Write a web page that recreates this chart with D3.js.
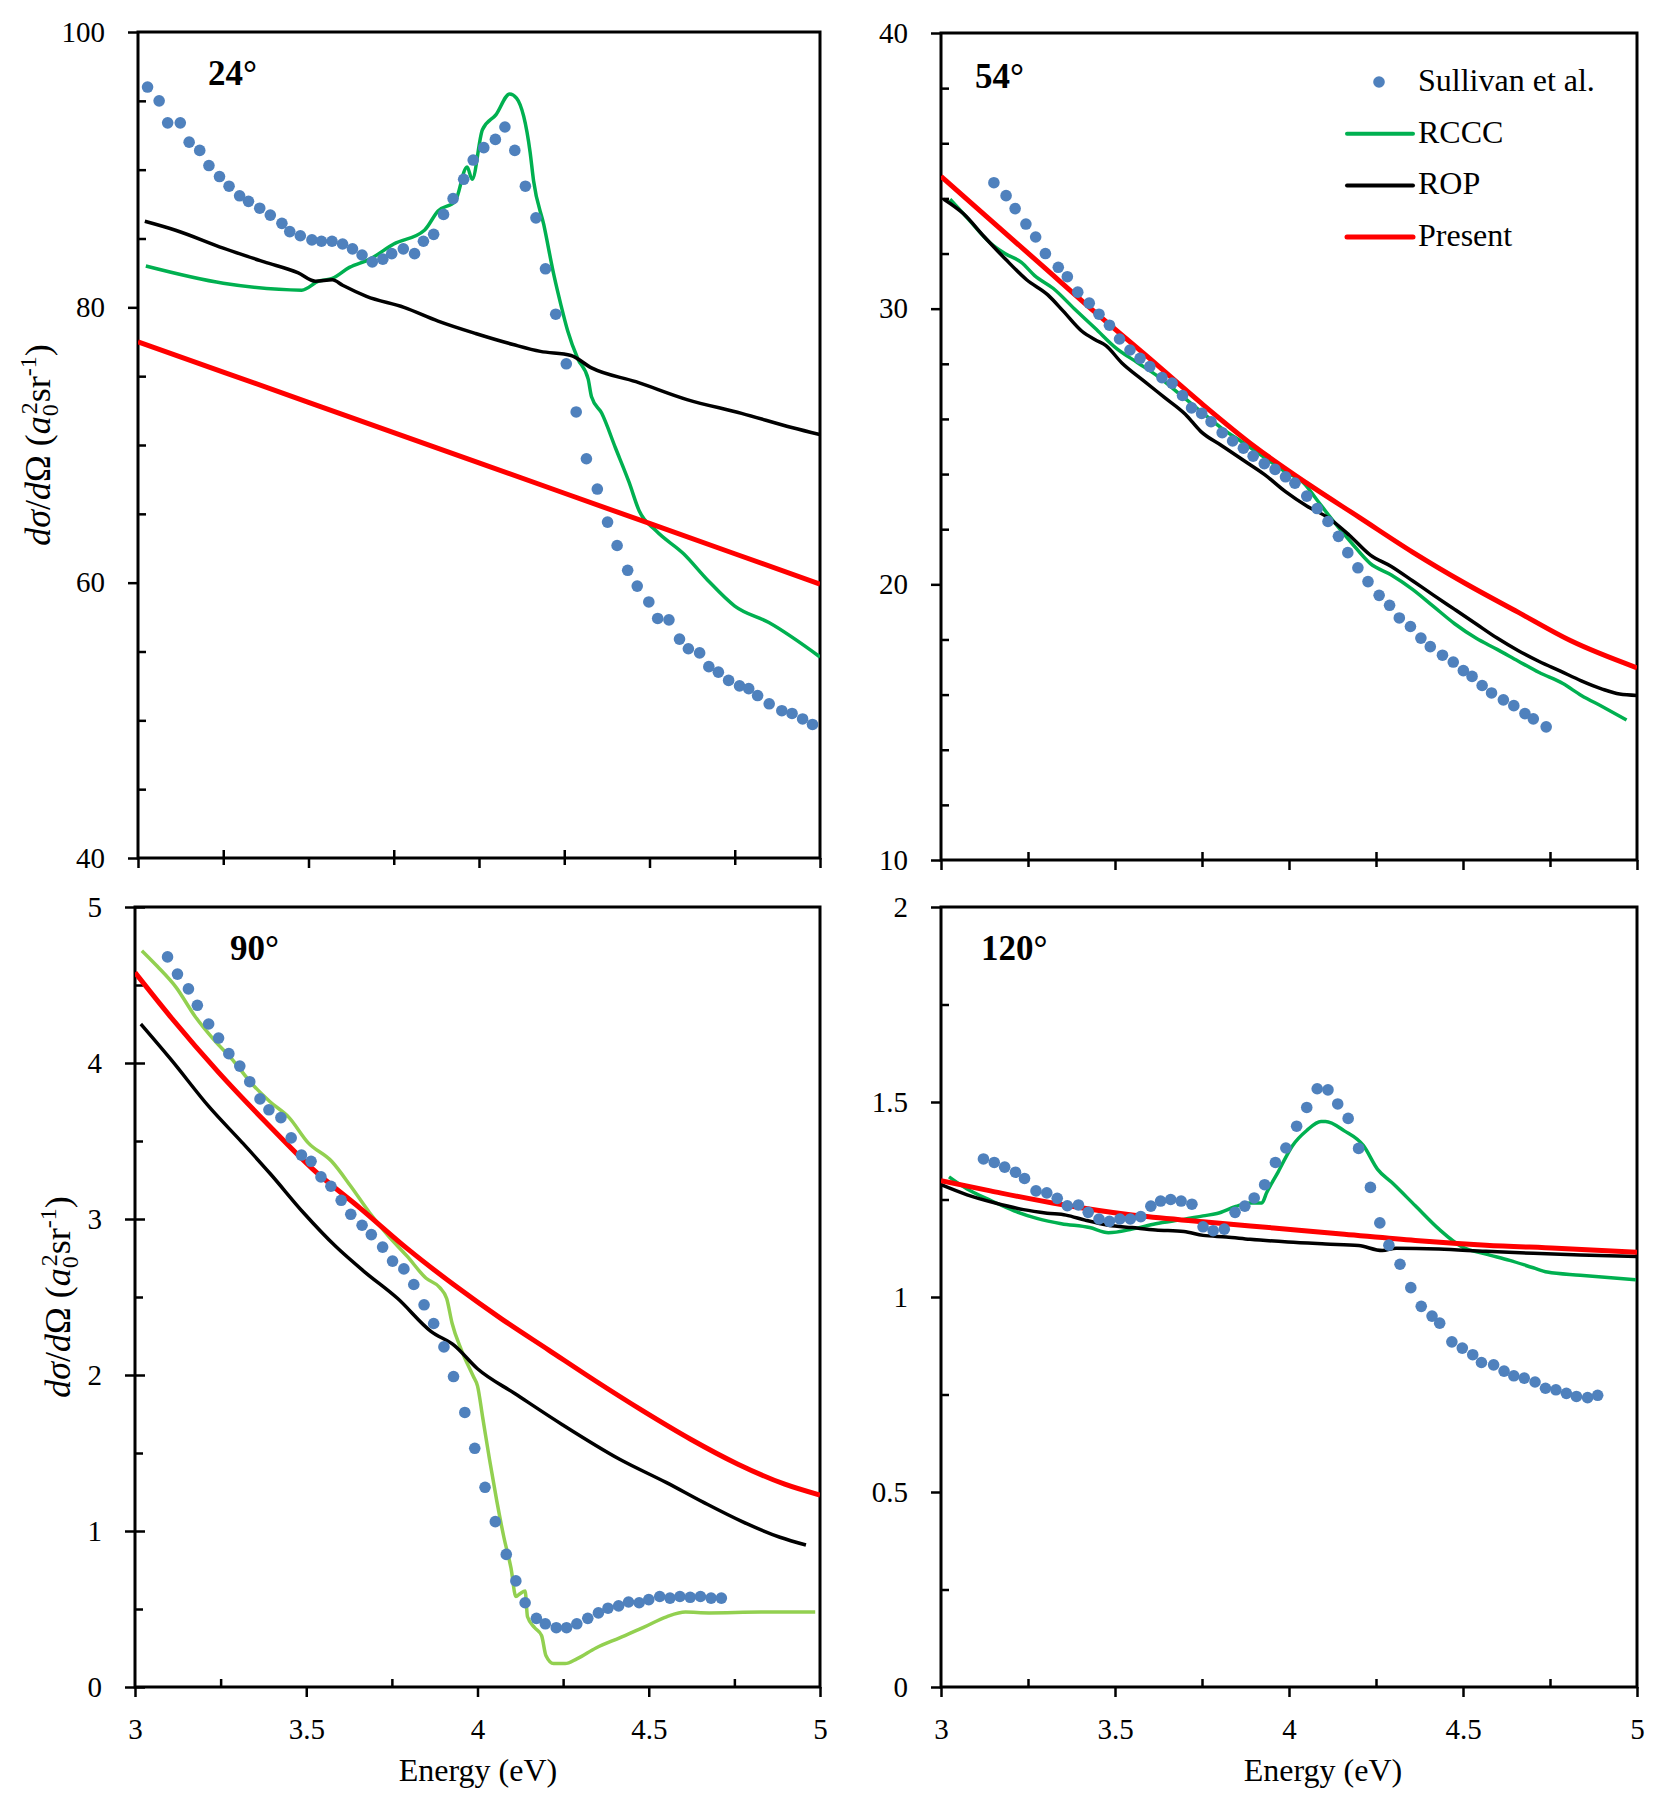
<!DOCTYPE html>
<html>
<head>
<meta charset="utf-8">
<script src="https://cdn.jsdelivr.net/npm/d3@7"></script>
<style>
  body { margin: 0; background: #fff; }
  text { font-family: "Liberation Serif", "DejaVu Serif", serif; fill: #000; }
</style>
</head>
<body>
<script>
'use strict';

// Data ==========================================================
// each series is a list of [energy (eV), dsigma/dOmega]

// 24 degrees
var sullivan24 = [[3.028,96.0],[3.062,95.0],[3.087,93.4],[3.124,93.4],[3.150,92.0],[3.181,91.4],[3.208,90.3],[3.239,89.5],[3.267,88.8],[3.298,88.1],[3.324,87.7],[3.357,87.2],[3.388,86.7],[3.422,86.1],[3.445,85.5],[3.476,85.2],[3.510,84.9],[3.538,84.8],[3.569,84.8],[3.600,84.6],[3.629,84.25],[3.657,83.8],[3.687,83.3],[3.718,83.5],[3.744,83.9],[3.778,84.25],[3.811,83.9],[3.837,84.8],[3.867,85.3],[3.896,86.75],[3.924,87.9],[3.955,89.3],[3.983,90.7],[4.014,91.6],[4.048,92.2],[4.076,93.1],[4.105,91.4],[4.136,88.8],[4.167,86.5],[4.195,82.8],[4.225,79.5],[4.256,75.9],[4.285,72.4],[4.315,69.0],[4.347,66.8],[4.377,64.4],[4.405,62.7],[4.436,60.9],[4.464,59.75],[4.498,58.6],[4.524,57.4],[4.557,57.3],[4.588,55.9],[4.614,55.2],[4.647,54.9],[4.674,53.9],[4.702,53.5],[4.732,52.9],[4.764,52.5],[4.791,52.3],[4.817,51.8],[4.851,51.2],[4.888,50.7],[4.918,50.5],[4.949,50.1],[4.978,49.7]];
var rccc24 = [[3.023,83.0],[3.25,81.75],[3.48,81.25],[3.53,81.9],[3.57,82.1],[3.62,82.9],[3.68,83.5],[3.75,84.6],[3.84,85.6],[3.88,87.0],[3.93,87.7],[3.965,90.2],[3.98,89.3],[4.01,92.9],[4.05,94.0],[4.09,95.5],[4.11,95.2],[4.15,91.25],[4.16,89.2],[4.19,86.0],[4.22,82.3],[4.24,80.2],[4.26,78.3],[4.29,76.25],[4.32,74.8],[4.33,73.5],[4.36,72.3],[4.40,69.8],[4.44,67.3],[4.47,65.2],[4.52,63.75],[4.60,62.1],[4.67,60.2],[4.75,58.3],[4.85,57.1],[5.0,54.6]];
var rop24 = [[3.02,86.25],[3.11,85.6],[3.25,84.3],[3.37,83.3],[3.47,82.5],[3.52,81.9],[3.57,82.0],[3.60,81.6],[3.67,80.8],[3.78,80.0],[3.88,79.0],[3.99,78.1],[4.10,77.3],[4.18,76.8],[4.27,76.5],[4.33,75.6],[4.46,74.6],[4.61,73.3],[4.77,72.3],[4.92,71.25],[5.0,70.75]];
var present24 = [[3.0,77.5],[3.5,73.1],[4.0,68.7],[4.5,64.3],[5.0,59.9]];

// 54 degrees
var sullivan54 = [[3.152,34.57],[3.187,34.1],[3.213,33.63],[3.244,33.07],[3.272,32.6],[3.30,32.0],[3.337,31.5],[3.363,31.16],[3.393,30.6],[3.426,30.2],[3.454,29.8],[3.484,29.4],[3.513,28.9],[3.543,28.5],[3.572,28.2],[3.60,27.9],[3.635,27.5],[3.664,27.3],[3.694,26.85],[3.72,26.4],[3.749,26.2],[3.776,25.9],[3.808,25.5],[3.838,25.2],[3.869,24.94],[3.897,24.65],[3.929,24.38],[3.96,24.17],[3.99,23.9],[4.017,23.67],[4.051,23.2],[4.081,22.75],[4.112,22.28],[4.142,21.74],[4.169,21.15],[4.198,20.6],[4.227,20.1],[4.259,19.6],[4.289,19.24],[4.317,18.78],[4.349,18.47],[4.379,18.05],[4.406,17.74],[4.441,17.43],[4.472,17.18],[4.501,16.87],[4.526,16.66],[4.555,16.33],[4.582,16.06],[4.616,15.81],[4.646,15.6],[4.678,15.31],[4.702,15.12],[4.739,14.83]];
var rccc54 = [[3.026,33.97],[3.079,33.24],[3.14,32.4],[3.185,31.99],[3.231,31.68],[3.269,31.2],[3.322,30.74],[3.383,30.0],[3.443,29.29],[3.504,28.56],[3.565,28.04],[3.626,27.52],[3.686,26.9],[3.747,26.27],[3.808,25.65],[3.869,25.13],[3.93,24.6],[3.99,24.08],[4.043,23.67],[4.081,23.05],[4.127,22.3],[4.18,21.5],[4.233,20.76],[4.294,20.34],[4.355,19.82],[4.415,19.2],[4.476,18.57],[4.537,18.05],[4.598,17.64],[4.658,17.22],[4.719,16.8],[4.787,16.4],[4.84,15.97],[4.901,15.56],[4.97,15.08]];
var rop54 = [[3.008,33.97],[3.064,33.45],[3.125,32.6],[3.185,31.8],[3.246,31.05],[3.307,30.5],[3.352,29.9],[3.405,29.18],[3.443,28.87],[3.474,28.66],[3.519,28.04],[3.58,27.41],[3.641,26.79],[3.702,26.17],[3.747,25.54],[3.808,25.02],[3.869,24.5],[3.93,23.98],[3.99,23.36],[4.051,22.84],[4.112,22.42],[4.172,21.8],[4.233,21.07],[4.294,20.65],[4.355,20.13],[4.415,19.61],[4.476,19.09],[4.537,18.57],[4.598,18.05],[4.658,17.6],[4.719,17.2],[4.78,16.85],[4.84,16.5],[4.90,16.2],[4.95,16.02],[5.0,15.97]];
var present54 = [[3.0,34.8],[3.14,33.24],[3.29,31.57],[3.44,29.9],[3.595,28.24],[3.747,26.58],[3.899,25.02],[4.051,23.67],[4.203,22.42],[4.355,21.17],[4.507,20.03],[4.658,18.99],[4.81,17.95],[5.0,16.97]];

// 90 degrees
var sullivan90 = [[3.095,4.68],[3.124,4.57],[3.156,4.475],[3.182,4.37],[3.215,4.25],[3.244,4.16],[3.274,4.06],[3.306,3.98],[3.335,3.88],[3.365,3.77],[3.391,3.70],[3.426,3.65],[3.456,3.52],[3.486,3.41],[3.514,3.37],[3.543,3.27],[3.572,3.21],[3.602,3.12],[3.63,3.03],[3.663,2.96],[3.69,2.90],[3.723,2.82],[3.752,2.73],[3.785,2.68],[3.814,2.58],[3.844,2.45],[3.872,2.33],[3.902,2.18],[3.93,1.99],[3.963,1.76],[3.992,1.53],[4.022,1.28],[4.052,1.06],[4.084,0.85],[4.112,0.68],[4.139,0.54],[4.172,0.44],[4.198,0.405],[4.23,0.38],[4.26,0.38],[4.29,0.405],[4.322,0.44],[4.353,0.475],[4.381,0.505],[4.412,0.52],[4.441,0.545],[4.472,0.54],[4.50,0.56],[4.532,0.58],[4.562,0.57],[4.591,0.58],[4.621,0.575],[4.651,0.58],[4.682,0.57],[4.712,0.57]];
var rccc90 = [[3.02,4.72],[3.065,4.62],[3.12,4.485],[3.175,4.30],[3.23,4.15],[3.285,4.02],[3.34,3.87],[3.395,3.75],[3.45,3.65],[3.505,3.49],[3.574,3.37],[3.63,3.21],[3.685,3.04],[3.74,2.89],[3.795,2.76],[3.85,2.62],[3.89,2.56],[3.91,2.49],[3.926,2.33],[3.953,2.16],[3.988,1.99],[4.00,1.93],[4.015,1.73],[4.035,1.46],[4.056,1.196],[4.077,0.96],[4.098,0.76],[4.112,0.58],[4.125,0.60],[4.139,0.615],[4.146,0.45],[4.167,0.38],[4.187,0.33],[4.20,0.20],[4.222,0.15],[4.256,0.15],[4.29,0.18],[4.346,0.25],[4.415,0.315],[4.483,0.38],[4.552,0.45],[4.607,0.48],[4.676,0.475],[4.828,0.48],[4.986,0.48]];
var rop90 = [[3.017,4.25],[3.106,4.02],[3.216,3.72],[3.313,3.49],[3.395,3.29],[3.492,3.04],[3.588,2.82],[3.671,2.66],[3.767,2.49],[3.864,2.28],[3.932,2.19],[4.00,2.04],[4.11,1.88],[4.249,1.68],[4.415,1.46],[4.552,1.31],[4.663,1.18],[4.773,1.06],[4.883,0.96],[4.959,0.91]];
var present90 = [[3.0,4.58],[3.106,4.29],[3.244,3.94],[3.382,3.62],[3.519,3.32],[3.657,3.07],[3.795,2.81],[3.933,2.575],[4.07,2.36],[4.208,2.16],[4.346,1.96],[4.483,1.77],[4.621,1.59],[4.759,1.43],[4.897,1.30],[5.0,1.23]];

// 120 degrees
var sullivan120 = [[3.122,1.354],[3.153,1.345],[3.183,1.333],[3.214,1.32],[3.24,1.304],[3.273,1.272],[3.304,1.267],[3.334,1.253],[3.363,1.234],[3.395,1.236],[3.423,1.217],[3.454,1.20],[3.484,1.194],[3.514,1.20],[3.544,1.20],[3.574,1.206],[3.603,1.233],[3.631,1.246],[3.66,1.25],[3.69,1.246],[3.721,1.238],[3.753,1.18],[3.782,1.17],[3.814,1.174],[3.845,1.217],[3.873,1.233],[3.90,1.254],[3.93,1.288],[3.961,1.345],[3.991,1.382],[4.022,1.438],[4.051,1.486],[4.081,1.534],[4.112,1.531],[4.14,1.495],[4.17,1.458],[4.20,1.381],[4.234,1.281],[4.261,1.19],[4.287,1.133],[4.319,1.084],[4.35,1.024],[4.38,0.976],[4.411,0.951],[4.433,0.933],[4.468,0.885],[4.498,0.869],[4.528,0.852],[4.553,0.832],[4.588,0.826],[4.618,0.81],[4.646,0.798],[4.676,0.792],[4.707,0.782],[4.737,0.766],[4.767,0.762],[4.797,0.753],[4.826,0.745],[4.858,0.742],[4.887,0.748]];
var rccc120 = [[3.023,1.308],[3.075,1.277],[3.142,1.248],[3.21,1.221],[3.278,1.201],[3.346,1.188],[3.427,1.178],[3.481,1.165],[3.549,1.174],[3.617,1.188],[3.698,1.199],[3.753,1.208],[3.793,1.214],[3.847,1.232],[3.888,1.241],[3.922,1.241],[3.936,1.268],[3.969,1.321],[4.01,1.388],[4.051,1.427],[4.092,1.45],[4.105,1.45],[4.159,1.426],[4.214,1.388],[4.254,1.328],[4.295,1.294],[4.363,1.234],[4.431,1.174],[4.498,1.128],[4.566,1.11],[4.634,1.094],[4.702,1.075],[4.742,1.064],[4.837,1.056],[4.997,1.044]];
var rop120 = [[3.0,1.288],[3.075,1.262],[3.156,1.241],[3.237,1.224],[3.305,1.215],[3.359,1.21],[3.414,1.197],[3.481,1.184],[3.549,1.178],[3.617,1.172],[3.698,1.168],[3.753,1.158],[3.82,1.154],[3.888,1.148],[3.997,1.141],[4.105,1.136],[4.2,1.132],[4.268,1.119],[4.308,1.125],[4.431,1.123],[4.566,1.117],[4.702,1.112],[4.837,1.108],[5.0,1.104]];
var present120 = [[3.0,1.298],[3.142,1.272],[3.346,1.237],[3.549,1.21],[3.753,1.193],[3.956,1.177],[4.159,1.161],[4.363,1.145],[4.566,1.133],[4.769,1.125],[5.0,1.115]];

// Axis ticks and labels
var energyTicks = [3, 3.5, 4, 4.5, 5];
var energyMinor = [3.25, 3.75, 4.25, 4.75];
var yTicks24 = [40, 60, 80, 100];
var yTicks54 = [10, 20, 30, 40];
var yTicks90 = [0, 1, 2, 3, 4, 5];
var yTicks120 = [0, 0.5, 1, 1.5, 2];
var angleLabels = ['24°', '54°', '90°', '120°'];
var legendNames = ['Sullivan et al.', 'RCCC', 'ROP', 'Present'];

// Colours ========================================================
var dotColor = '#4f81bd';
var rcccColor = '#00b050';
var rcccColor90 = '#92d050';
var ropColor = '#000000';
var presentColor = '#ff0000';

var serif = '"Liberation Serif", "DejaVu Serif", serif';
var width = 1660;
var height = 1806;

var svg = d3.select('body').append('svg')
  .attr('width', width)
  .attr('height', height);

svg.append('rect').attr('width', width).attr('height', height).attr('fill', '#fff');

// builds a minor tick list between majors
function minors(majors, step) {
  var out = [];
  for (var i = 0; i < majors.length - 1; i++) {
    for (var v = majors[i] + step; v < majors[i + 1] - step / 2; v += step) {
      out.push(+v.toFixed(4));
    }
  }
  return out;
}

function drawPanel(p, idx) {
  var g = svg.append('g');
  var x = d3.scaleLinear().domain([3, 5]).range([p.left, p.right]);
  var y = d3.scaleLinear().domain(p.yDomain).range([p.bottom, p.top]);

  var clipId = 'clip' + idx;
  svg.append('clipPath').attr('id', clipId)
    .append('rect')
    .attr('x', p.left).attr('y', p.top)
    .attr('width', p.right - p.left).attr('height', p.bottom - p.top);

  // y axis, majors outside (or crossing), minors inside
  var yAxis = g.append('g')
    .attr('transform', 'translate(' + p.left + ',0)')
    .call(d3.axisLeft(y).tickValues(p.yTicks).tickSize(10).tickPadding(23)
      .tickFormat(function (d) { return String(d); }));
  if (p.crossY) {
    yAxis.selectAll('.tick line').attr('x1', 10);
  }
  g.append('g')
    .attr('transform', 'translate(' + p.left + ',0)')
    .call(d3.axisRight(y).tickValues(minors(p.yTicks, p.yMinorStep)).tickSize(8).tickFormat(''));

  // x axis
  var xAxis = g.append('g')
    .attr('transform', 'translate(0,' + p.bottom + ')')
    .call(d3.axisBottom(x).tickValues(energyTicks).tickSize(10).tickPadding(21)
      .tickFormat(function (d) { return String(d); }));
  if (!p.xLabels) xAxis.selectAll('.tick text').remove();
  var xMinor = g.append('g')
    .attr('transform', 'translate(0,' + p.bottom + ')')
    .call(d3.axisTop(x).tickValues(energyMinor).tickSize(8).tickFormat(''));
  if (!p.xLabels) {
    // top panels: minor ticks cross the axis
    xMinor.selectAll('.tick line').attr('y1', 7);
  }

  g.selectAll('.domain').remove();
  g.selectAll('.tick line').attr('stroke', '#000').attr('stroke-width', 2.5);
  g.selectAll('.tick text')
    .style('font-family', serif)
    .style('font-size', '29px')
    .attr('fill', '#000');

  // plot frame
  g.append('rect')
    .attr('x', p.left).attr('y', p.top)
    .attr('width', p.right - p.left).attr('height', p.bottom - p.top)
    .attr('fill', 'none').attr('stroke', '#000').attr('stroke-width', 3);

  var line = d3.line()
    .x(function (d) { return x(d[0]); })
    .y(function (d) { return y(d[1]); })
    .curve(d3.curveMonotoneX);

  var lines = g.append('g').attr('clip-path', 'url(#' + clipId + ')');
  lines.append('path').datum(p.rccc)
    .attr('d', line).attr('fill', 'none')
    .attr('stroke', p.rcccColor).attr('stroke-width', 3.5).attr('stroke-linejoin', 'round');
  lines.append('path').datum(p.rop)
    .attr('d', line).attr('fill', 'none')
    .attr('stroke', ropColor).attr('stroke-width', 3.5).attr('stroke-linejoin', 'round');
  lines.append('path').datum(p.present)
    .attr('d', line).attr('fill', 'none')
    .attr('stroke', presentColor).attr('stroke-width', 5).attr('stroke-linejoin', 'round');

  // experimental points on top
  g.append('g').selectAll('circle')
    .data(p.sullivan)
    .enter().append('circle')
    .attr('cx', function (d) { return x(d[0]); })
    .attr('cy', function (d) { return y(d[1]); })
    .attr('r', 5.8)
    .attr('fill', dotColor);

  // angle label
  g.append('text')
    .attr('x', p.labelX).attr('y', p.labelY)
    .attr('font-size', 35)
    .attr('font-weight', 'bold')
    .text(angleLabels[idx]);

  if (p.xLabels) {
    g.append('text')
      .attr('x', p.xTitleX).attr('y', 1781)
      .attr('text-anchor', 'middle')
      .attr('font-size', 32)
      .text('Energy (eV)');
  }

  if (p.yTitle) {
    var t = g.append('text')
      .attr('transform', 'translate(' + p.yTitleX + ',' + ((p.top + p.bottom) / 2) + ') rotate(-90)')
      .attr('text-anchor', 'middle')
      .attr('font-size', 36);
    t.append('tspan').attr('font-style', 'italic').text('d');
    t.append('tspan').attr('font-style', 'italic').text('σ');
    t.append('tspan').text('/');
    t.append('tspan').attr('font-style', 'italic').text('d');
    t.append('tspan').text('Ω (');
    t.append('tspan').attr('font-style', 'italic').text('a');
    t.append('tspan').attr('font-size', 24).attr('dy', 8).text('0');
    t.append('tspan').attr('font-size', 24).attr('dx', -10).attr('dy', -21).text('2');
    t.append('tspan').attr('dy', 13).text('sr');
    t.append('tspan').attr('font-size', 24).attr('dy', -14).text('-1');
    t.append('tspan').attr('dy', 14).text(')');
  }
}

var panels = [
  { left: 138, right: 820, top: 32, bottom: 858, yDomain: [40, 100], yTicks: yTicks24, yMinorStep: 5,
    sullivan: sullivan24, rccc: rccc24, rop: rop24, present: present24, rcccColor: rcccColor,
    labelX: 208, labelY: 85, yTitle: true, yTitleX: 50 },
  { left: 941, right: 1637, top: 33, bottom: 860, yDomain: [10, 40], yTicks: yTicks54, yMinorStep: 2,
    sullivan: sullivan54, rccc: rccc54, rop: rop54, present: present54, rcccColor: rcccColor,
    labelX: 975, labelY: 88 },
  { left: 135, right: 820, top: 907, bottom: 1687, yDomain: [0, 5], yTicks: yTicks90, yMinorStep: 0.5,
    sullivan: sullivan90, rccc: rccc90, rop: rop90, present: present90, rcccColor: rcccColor90,
    labelX: 230, labelY: 960, yTitle: true, yTitleX: 70, crossY: true, xLabels: true, xTitleX: 478 },
  { left: 941, right: 1637, top: 907, bottom: 1687, yDomain: [0, 2], yTicks: yTicks120, yMinorStep: 0.25,
    sullivan: sullivan120, rccc: rccc120, rop: rop120, present: present120, rcccColor: rcccColor,
    labelX: 981, labelY: 960, xLabels: true, xTitleX: 1323 }
];

panels.forEach(function (p, i) { drawPanel(p, i); });

// Legend inside the 54 degree panel
var legendColors = [dotColor, rcccColor, ropColor, presentColor];
var legend = svg.append('g').attr('transform', 'translate(1347,82)');
legendNames.forEach(function (name, i) {
  var row = legend.append('g').attr('transform', 'translate(0,' + (i * 51.7) + ')');
  if (i === 0) {
    row.append('circle').attr('cx', 32).attr('cy', 0).attr('r', 5.8).attr('fill', legendColors[i]);
  } else {
    row.append('line')
      .attr('x1', 0).attr('x2', 66).attr('y1', 0).attr('y2', 0)
      .attr('stroke', legendColors[i])
      .attr('stroke-width', i === 3 ? 5 : 4)
      .attr('stroke-linecap', 'round');
  }
  row.append('text')
    .attr('x', 71).attr('y', 9)
    .attr('font-size', 32)
    .text(name);
});
</script>
</body>
</html>
